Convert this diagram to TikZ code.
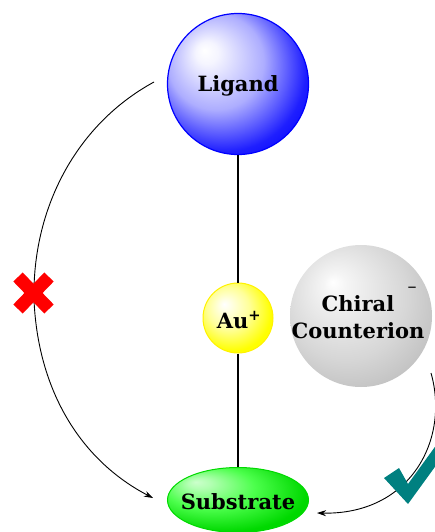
\documentclass[tikz,border=0pt]{standalone}
\usepackage{fontspec}
\setmainfont{DejaVu Serif}
\usetikzlibrary{arrows.meta,shapes.geometric}
\pgfdeclareradialshading{blueball}{\pgfpoint{-12bp}{12bp}}{color(0bp)=(white); color(4bp)=(white!96!blue); color(17bp)=(blue!32); color(29bp)=(blue!88); color(36bp)=(blue); color(50bp)=(blue)}
\pgfdeclareradialshading{yellowball}{\pgfpoint{-10bp}{10bp}}{color(0bp)=(white); color(4bp)=(white!90!yellow); color(15bp)=(yellow!40); color(28bp)=(yellow); color(50bp)=(yellow)}
\pgfdeclareradialshading{grayball}{\pgfpoint{-10bp}{12bp}}{color(0bp)=(white); color(4bp)=(white!96!black); color(22bp)=(white!84!black); color(34bp)=(white!74!black); color(50bp)=(white!70!black)}
\pgfdeclareradialshading{greenball}{\pgfpoint{-15bp}{14bp}}{color(0bp)=(white!80!green); color(4bp)=(white!70!green); color(16bp)=(green!70); color(30bp)=(green!85!black); color(50bp)=(green!80!black)}
\definecolor{tealcheck}{RGB}{0,128,128}
\tikzset{
  ball/.style={circle, inner sep=0pt, font=\bfseries\fontsize{21}{27}\selectfont, text=black},
  lbl/.style={inner sep=0pt, font=\bfseries\fontsize{21}{27}\selectfont, text=black, align=center},
  conn/.style={line width=0.9pt, -{Stealth[length=9pt,width=6pt]}},
  stem/.style={line width=2.6pt}
}
\begin{document}
\begin{tikzpicture}[x=1pt,y=-1pt]
\useasboundingbox (0,0) rectangle (435,532);
% connectors behind
\coordinate (lstart) at (154,82);
\coordinate (lmid) at (34,300);
\coordinate (lend) at (153,498);
\coordinate (rstart) at (431,373);
\coordinate (rend) at (317,513);
\draw[line width=0.9pt] (lstart) .. controls (75,125) and (32,210) .. (lmid);
\draw[conn] (lmid) .. controls (38,390) and (80,460) .. (lend);
\draw[conn] (rstart) .. controls (450,440) and (410,515) .. (rend);
% nodes
\node[ball, minimum size=141pt, shading=blueball, draw=blue, line width=1.2pt] (lig) at (238,84) {};
\node[lbl] (ligt) at (238,86) {Ligand};
\node[ball, minimum size=70pt, shading=yellowball, draw=yellow, line width=1pt] (au) at (238,318) {};
\node[lbl] (aut) at (239,320) {Au\textsuperscript{+}};
\node[ball, minimum size=142pt, shading=grayball] (chi) at (361,316) {};
\node[lbl] (chit) at (358,317) {Chiral\\Counterion};
\node[ellipse, inner sep=0pt, minimum width=141pt, minimum height=65pt, shading=greenball, draw=green!85!black, line width=1pt] (sub) at (238,500) {};
\node[lbl] (subt) at (238,502) {Substrate};
\node[font=\fontsize{18}{18}\selectfont, inner sep=0pt] (minus) at (412,290) {\textendash};
\draw[stem] (lig.south) -- (au.north);
\draw[stem] (au.south) -- (sub.north);
% red cross
\draw[red, line width=13pt] (18,277) -- (49,309);
\draw[red, line width=13pt] (18,309) -- (49,277);
% teal check
\fill[tealcheck] (384,478) -- (399,468) -- (408,484) -- (445,433) -- (445,453) -- (408,504) -- cycle;
\end{tikzpicture}
\end{document}
